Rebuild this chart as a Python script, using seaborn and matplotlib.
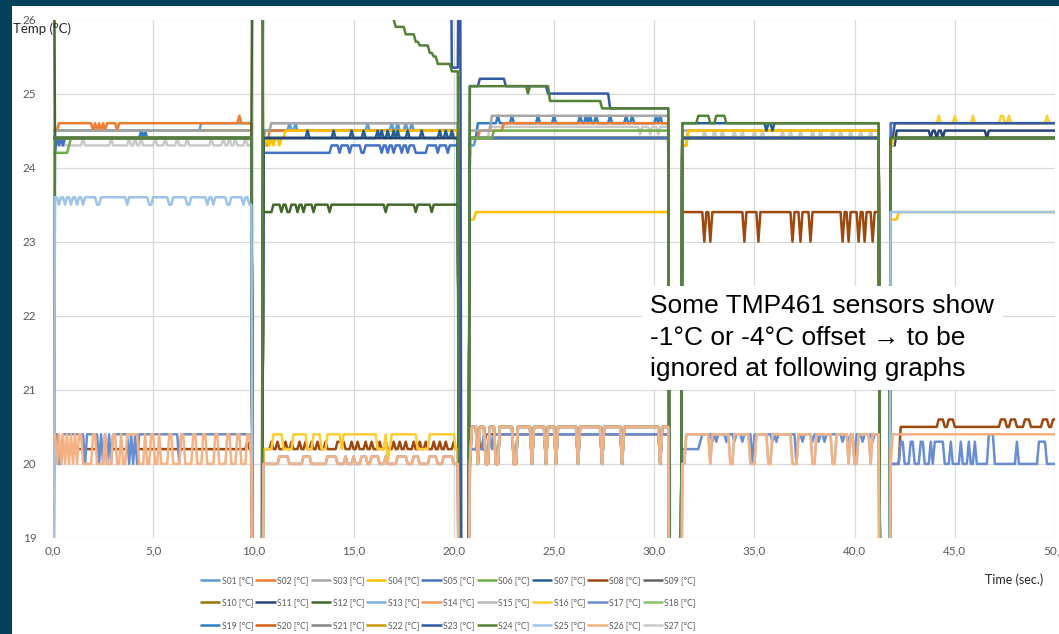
import numpy as np
import pandas as pd
import matplotlib
matplotlib.use("Agg")
import matplotlib.pyplot as plt
from matplotlib.patches import Rectangle
import seaborn as sns

# ---------------- data ----------------
LO = 15.0   # reading below the visible scale
HI = 30.0   # reading above the visible scale
SAMPLE_STEP = 0.1
TIME = np.round(np.arange(0, 501) * SAMPLE_STEP, 1)

SEG_START = [0.0, 10.5, 20.8, 31.4, 41.8]
SEG_END = [9.9, 20.2, 30.7, 41.2, 50.0]

SENSORS = ["S%02d" % i for i in range(1, 28)]
LABELS = ["S%02d [°C]" % i for i in range(1, 28)]
COLORS = ["#5B9BD5", "#ED7D31", "#A5A5A5", "#FFC000", "#4472C4", "#70AD47",
          "#255E91", "#9E480E", "#636363", "#997300", "#264478", "#43682B",
          "#7CAFDD", "#F1975A", "#B7B7B7", "#FFCD33", "#698ED0", "#8CC168",
          "#327DC2", "#D26012", "#848484", "#CC9A00", "#335AA1", "#548235",
          "#9DC3E6", "#F4B183", "#C9C9C9"]

Y_TICKS = [19, 20, 21, 22, 23, 24, 25, 26]
X_TICKS = [0, 5, 10, 15, 20, 25, 30, 35, 40, 45, 50]
X_TICK_LABELS = ["0,0", "5,0", "10,0", "15,0", "20,0", "25,0", "30,0",
                 "35,0", "40,0", "45,0", "50,0"]

# per sensor: level of each of the 5 runs (None = reads like S26), and excursions (t0, t1, value)
S26_LEVELS = [20.0, 20.0, 20.5, 20.4, 20.4]
S26_EVENTS = [(0.0, 0.1, 20.4), (0.3, 0.3, 20.4), (0.5, 0.5, 20.4), (0.7, 0.7, 20.4),
              (0.9, 0.9, 20.4), (1.1, 1.1, 20.4), (1.3, 1.4, 20.4), (2.0, 2.1, 20.4),
              (2.6, 2.6, 20.4), (3.0, 3.1, 20.4), (3.4, 3.4, 20.4), (3.7, 4.2, 20.4),
              (4.6, 4.6, 20.4), (4.9, 5.0, 20.4), (5.3, 5.3, 20.4), (5.8, 5.9, 20.4),
              (6.4, 6.5, 20.4), (7.0, 7.1, 20.4), (7.5, 7.6, 20.4), (8.1, 8.2, 20.4),
              (8.7, 8.8, 20.4), (9.2, 9.3, 20.4), (9.7, 9.8, 20.4),
              (11.3, 11.7, 20.1), (12.5, 12.8, 20.1), (13.7, 14.1, 20.1), (14.6, 14.6, 20.1),
              (15.0, 15.0, 20.1), (15.4, 15.6, 20.1), (15.9, 16.2, 20.1), (16.6, 16.6, 20.1),
              (17.2, 17.6, 20.1), (18.0, 18.2, 20.1), (18.8, 19.1, 20.1), (19.5, 19.9, 20.1),
              (20.8, 20.8, 20.0), (21.2, 21.2, 20.0), (21.6, 21.7, 20.0), (22.1, 22.2, 20.0),
              (23.0, 23.1, 20.0), (23.9, 23.9, 20.0), (24.6, 24.6, 20.0), (25.1, 25.1, 20.0),
              (26.2, 26.2, 20.0), (27.4, 27.4, 20.0), (28.4, 28.4, 20.0), (30.3, 30.3, 20.0),
              (31.4, 31.5, 20.0), (32.8, 32.8, 20.0), (33.8, 33.9, 20.0), (34.8, 35.0, 20.0),
              (35.7, 35.8, 20.0), (36.9, 37.1, 20.0), (37.9, 38.0, 20.0), (38.9, 39.0, 20.0),
              (39.7, 39.7, 20.0), (40.0, 40.1, 20.0), (40.8, 40.8, 20.0), (41.8, 41.8, 20.0)]

S01_LEVELS = [24.5, 24.5, 24.4, 24.4, 24.4]
S01_EVENTS = [(0.0, 0.0, LO), (7.4, 9.9, 24.6), (11.8, 11.8, 24.6), (12.1, 12.1, 24.6),
              (15.7, 15.7, 24.6), (16.9, 16.9, 24.6), (17.2, 17.2, 24.6), (17.6, 17.6, 24.6),
              (17.9, 17.9, 24.6), (20.8, 21.0, 24.3)]
S02_LEVELS = [24.6, 24.5, 24.6, 24.5, 24.4]
S02_EVENTS = [(0.0, 0.2, 24.5), (2.0, 2.0, 24.5), (2.2, 2.2, 24.5), (2.4, 2.4, 24.5),
              (2.6, 2.6, 24.5), (3.2, 3.2, 24.5), (9.3, 9.3, 24.7), (10.5, 10.7, 24.3),
              (20.8, 21.2, 24.4), (21.3, 22.4, 24.5), (31.4, 31.6, 24.3)]
S03_LEVELS = [24.5, 24.6, 24.7, 24.5, 24.4]
S03_EVENTS = [(10.5, 10.5, 24.4), (10.6, 10.8, 24.5), (20.8, 21.8, 24.5)]
S04_LEVELS = [24.4, 24.5, 23.4, 24.5, 23.4]
S04_EVENTS = [(10.5, 10.6, 24.3), (10.7, 10.7, 24.4), (10.8, 10.8, 24.3), (10.9, 10.9, 24.4),
              (11.0, 11.0, 24.3), (11.1, 11.2, 24.4), (11.3, 11.3, 24.3), (11.4, 11.5, 24.4),
              (20.8, 21.0, 23.3), (31.4, 31.6, 24.3), (41.8, 42.1, 23.3)]
S05_LEVELS = [24.4, 24.3, 24.4, 24.4, 24.6]
S05_EVENTS = [(0.0, 0.1, 24.2), (0.3, 0.3, 24.3), (0.5, 0.5, 24.3), (10.5, 13.8, 24.2),
              (14.3, 14.3, 24.2), (14.8, 14.8, 24.2), (15.4, 15.5, 24.2), (16.4, 16.4, 24.2),
              (16.7, 16.7, 24.2), (17.0, 17.0, 24.2), (17.4, 17.4, 24.2), (17.7, 17.7, 24.2),
              (18.1, 18.6, 24.2), (19.2, 19.2, 24.2), (19.7, 19.7, 24.2)]
S06_LEVELS = [24.4, 24.4, 24.5, 24.4, 24.4]
S06_EVENTS = [(0.0, 0.7, 24.2), (0.8, 0.8, 24.3), (20.8, 21.9, 24.4)]
S07_LEVELS = [24.4, 24.4, None, 24.6, 24.4]
S07_EVENTS = [(12.7, 12.7, 24.5), (14.0, 14.0, 24.5), (14.9, 14.9, 24.5), (15.5, 15.5, 24.5),
              (16.2, 16.2, 24.5), (16.4, 16.4, 24.5), (16.7, 16.7, 24.5), (17.0, 17.0, 24.5),
              (17.2, 17.2, 24.5), (17.7, 17.7, 24.5), (18.4, 18.4, 24.5), (19.3, 19.3, 24.5),
              (19.6, 19.6, 24.5), (19.9, 19.9, 24.5), (35.6, 35.6, 24.5), (35.9, 35.9, 24.5)]
S08_LEVELS = [20.2, 20.2, 20.4, 23.4, 20.5]
S08_EVENTS = [(9.7, 9.7, 20.3),
              (10.9, 10.9, 20.3), (11.2, 11.2, 20.3), (11.6, 11.6, 20.3), (11.9, 11.9, 20.3),
              (12.3, 12.3, 20.3), (12.6, 12.6, 20.3), (12.9, 12.9, 20.3), (13.2, 13.2, 20.3),
              (13.6, 13.6, 20.3), (14.2, 14.5, 20.3), (14.9, 14.9, 20.3), (15.2, 15.2, 20.3),
              (15.6, 15.6, 20.3), (15.9, 15.9, 20.3), (16.3, 16.3, 20.3), (16.6, 16.6, 20.3),
              (17.0, 17.0, 20.3), (17.3, 17.3, 20.3), (17.6, 17.6, 20.3), (18.0, 18.0, 20.3),
              (18.3, 18.3, 20.3), (18.6, 18.6, 20.3), (19.0, 19.0, 20.3), (19.3, 19.3, 20.3),
              (19.6, 19.6, 20.3), (20.0, 20.0, 20.3),
              (20.8, 21.2, 20.2), (21.3, 21.3, 20.3), (21.4, 21.5, 20.2),
              (32.5, 32.5, 23.0), (32.8, 32.8, 23.0), (34.5, 34.5, 23.0), (35.2, 35.2, 23.0),
              (36.9, 36.9, 23.0), (37.3, 37.3, 23.0), (37.8, 37.8, 23.0), (39.4, 39.4, 23.0),
              (39.7, 39.7, 23.0), (40.2, 40.2, 23.0), (40.5, 40.5, 23.0), (40.9, 40.9, 23.0),
              (41.8, 42.2, 20.0), (44.2, 44.4, 20.6), (44.7, 44.9, 20.6), (47.3, 47.5, 20.6),
              (47.8, 48.0, 20.6), (48.5, 48.7, 20.6), (49.4, 49.6, 20.6), (49.9, 50.0, 20.6)]
S09_LEVELS = [24.5, 24.5, 24.4, 24.4, 24.4]
S10_LEVELS = [24.5, 24.5, 24.4, 24.4, 24.4]
S11_LEVELS = [24.4, 24.4, None, 24.4, 24.5]
S11_EVENTS = [(41.8, 42.0, 24.3), (43.8, 43.8, 24.4), (44.1, 44.1, 24.4), (44.4, 44.4, 24.4),
              (46.6, 46.6, 24.4)]
S12_LEVELS = [24.4, 23.5, None, 24.4, 24.4]
S12_EVENTS = [(0.0, 0.0, HI), (10.0, 10.4, HI), (10.5, 10.9, 23.4), (11.4, 11.4, 23.4),
              (11.7, 11.8, 23.4), (12.2, 12.2, 23.4), (12.5, 12.5, 23.4), (13.0, 13.0, 23.4),
              (13.8, 13.8, 23.4), (16.6, 16.6, 23.4), (18.1, 18.1, 23.4), (18.9, 18.9, 23.4)]
S13_LEVELS = [24.5, 24.5, 24.4, 24.4, 24.4]
S14_LEVELS = [24.5, 24.5, 24.4, 24.4, 24.4]
S15_LEVELS = [24.5, 24.5, 24.4, 24.4, 24.4]
S16_LEVELS = [24.4, 20.4, None, 24.4, 24.6]
S16_EVENTS = [(10.5, 10.9, 20.2), (11.5, 11.9, 20.2), (12.7, 12.9, 20.2), (13.4, 13.6, 20.2),
              (14.4, 14.4, 20.2), (16.2, 16.5, 20.2), (16.7, 16.7, 20.0), (16.8, 16.8, 20.2),
              (18.2, 18.7, 20.2), (20.1, 20.2, 20.2), (41.8, 41.9, 24.3),
              (44.2, 44.2, 24.7), (45.0, 45.0, 24.7), (45.9, 45.9, 24.7), (47.3, 47.4, 24.7),
              (47.7, 47.7, 24.7), (49.6, 49.6, 24.7)]
S17_LEVELS = [20.4, None, 20.4, 20.4, 20.0]
S17_EVENTS = [(0.3, 0.4, 20.0), (1.6, 1.6, 20.0), (2.3, 2.3, 20.0), (2.5, 2.5, 20.0),
              (2.7, 2.7, 20.0), (2.9, 2.9, 20.0), (3.8, 3.8, 20.0), (4.0, 4.0, 20.0),
              (4.2, 4.2, 20.0), (6.3, 6.3, 20.0),
              (20.8, 21.4, 20.2), (21.9, 21.9, 20.2),
              (31.4, 32.2, 20.2), (32.3, 32.3, 20.3), (32.9, 32.9, 20.3), (33.1, 33.1, 20.3),
              (33.6, 33.6, 20.3), (34.0, 34.0, 20.3), (34.4, 34.4, 20.3), (34.9, 34.9, 20.0),
              (35.9, 35.9, 20.3), (36.1, 36.1, 20.3), (37.1, 37.1, 20.0), (37.4, 37.4, 20.3),
              (37.9, 37.9, 20.3), (38.2, 38.2, 20.3), (38.5, 38.5, 20.3), (39.4, 39.4, 20.3),
              (39.7, 39.7, 20.3), (40.0, 40.0, 20.0), (40.4, 40.4, 20.3), (40.9, 40.9, 20.3),
              (42.3, 42.4, 20.3), (42.8, 42.9, 20.3), (43.3, 43.4, 20.3), (43.8, 43.8, 20.3),
              (44.0, 44.4, 20.3), (44.8, 44.8, 20.3), (45.3, 45.3, 20.3), (45.7, 45.7, 20.3),
              (46.0, 46.0, 20.3), (46.7, 46.9, 20.4), (48.1, 48.1, 20.3), (49.2, 49.5, 20.3)]
S18_LEVELS = [24.5, 24.5, 24.4, 24.4, 24.4]
S19_LEVELS = [24.4, 24.5, 24.6, 24.4, 24.4]
S19_EVENTS = [(4.4, 4.4, 24.5), (4.6, 4.6, 24.5), (20.8, 21.1, 24.4),
              (22.2, 22.2, 24.7), (22.9, 22.9, 24.7), (24.2, 24.2, 24.7), (25.0, 25.0, 24.7),
              (26.3, 26.3, 24.7), (26.6, 26.6, 24.7), (26.8, 26.8, 24.7), (27.1, 27.1, 24.7),
              (27.8, 27.8, 24.7), (28.6, 28.6, 24.7), (28.9, 28.9, 24.7), (30.1, 30.1, 24.7),
              (30.3, 30.3, 24.7)]
S20_LEVELS = [24.5, 24.5, 24.4, 24.4, 24.4]
S21_LEVELS = [24.5, 24.5, 24.4, 24.4, 24.4]
S22_LEVELS = [24.5, 24.5, 24.4, 24.4, 24.4]
S23_LEVELS = [24.4, HI, 25.1, 24.4, 24.6]
S23_EVENTS = [(19.9, 20.2, 25.35), (20.3, 20.3, HI), (21.3, 22.5, 25.2), (24.7, 27.7, 25.0),
              (27.8, 30.7, 24.8), (41.8, 41.9, 24.4)]
S24_LEVELS = [24.4, HI, 25.1, 24.6, 24.4]
S24_EVENTS = [(0.0, 0.0, LO), (17.0, 17.0, 26.0), (17.1, 17.5, 25.9), (17.6, 18.0, 25.8),
              (18.1, 18.2, 25.7), (18.3, 18.7, 25.65), (18.8, 18.9, 25.55), (19.0, 19.1, 25.5),
              (19.2, 19.8, 25.4), (19.9, 20.2, 25.3), (23.7, 23.7, 25.0), (24.8, 27.3, 24.9),
              (27.4, 30.7, 24.8), (32.2, 32.7, 24.7), (33.1, 33.5, 24.7)]
S25_LEVELS = [23.6, None, None, None, 23.4]
S25_EVENTS = [(0.0, 0.0, LO), (0.3, 0.3, 23.5), (0.6, 0.6, 23.5), (0.9, 0.9, 23.5),
              (1.2, 1.2, 23.5), (1.5, 1.5, 23.5), (2.2, 2.3, 23.5), (3.7, 3.7, 23.5),
              (4.8, 4.9, 23.5), (5.8, 5.9, 23.5), (6.7, 6.8, 23.5), (7.7, 7.7, 23.5),
              (8.0, 8.0, 23.5), (8.7, 8.8, 23.5), (9.5, 9.5, 23.5), (9.8, 9.9, 23.5)]
S27_LEVELS = [24.3, 24.6, 24.55, 24.4, 24.4]
S27_EVENTS = [(0.0, 0.3, 24.4), (1.5, 1.5, 24.4), (2.9, 2.9, 24.4), (3.8, 3.8, 24.4),
              (4.1, 4.1, 24.4), (4.4, 4.4, 24.4), (5.1, 5.1, 24.4), (5.6, 5.6, 24.4),
              (6.2, 6.2, 24.4), (6.7, 6.7, 24.4), (7.9, 7.9, 24.4), (8.5, 8.5, 24.4),
              (8.8, 8.8, 24.4), (9.1, 9.1, 24.4), (9.6, 9.6, 24.4),
              (10.5, 10.5, 24.4), (10.6, 10.8, 24.5), (20.8, 21.7, 24.4),
              (29.3, 29.3, 24.45), (29.8, 29.8, 24.45), (30.2, 30.2, 24.45),
              (32.5, 32.5, 24.5), (33.0, 33.0, 24.5), (33.4, 33.4, 24.5), (34.0, 34.0, 24.5),
              (34.4, 34.4, 24.5), (35.0, 35.0, 24.5), (35.4, 35.4, 24.5), (36.4, 36.4, 24.5),
              (36.8, 36.8, 24.5), (37.3, 37.3, 24.5), (37.9, 37.9, 24.5), (38.3, 38.3, 24.5),
              (38.9, 38.9, 24.5), (39.3, 39.3, 24.5), (39.8, 39.8, 24.5), (40.3, 40.3, 24.5),
              (40.8, 40.8, 24.5)]

SERIES_SPEC = {
    "S01": (S01_LEVELS, S01_EVENTS), "S02": (S02_LEVELS, S02_EVENTS),
    "S03": (S03_LEVELS, S03_EVENTS), "S04": (S04_LEVELS, S04_EVENTS),
    "S05": (S05_LEVELS, S05_EVENTS), "S06": (S06_LEVELS, S06_EVENTS),
    "S07": (S07_LEVELS, S07_EVENTS), "S08": (S08_LEVELS, S08_EVENTS),
    "S09": (S09_LEVELS, []), "S10": (S10_LEVELS, []),
    "S11": (S11_LEVELS, S11_EVENTS), "S12": (S12_LEVELS, S12_EVENTS),
    "S13": (S13_LEVELS, []), "S14": (S14_LEVELS, []), "S15": (S15_LEVELS, []),
    "S16": (S16_LEVELS, S16_EVENTS), "S17": (S17_LEVELS, S17_EVENTS),
    "S18": (S18_LEVELS, []), "S19": (S19_LEVELS, S19_EVENTS),
    "S20": (S20_LEVELS, []), "S21": (S21_LEVELS, []), "S22": (S22_LEVELS, []),
    "S23": (S23_LEVELS, S23_EVENTS), "S24": (S24_LEVELS, S24_EVENTS),
    "S25": (S25_LEVELS, S25_EVENTS), "S26": (S26_LEVELS, S26_EVENTS),
    "S27": (S27_LEVELS, S27_EVENTS),
}

# order in which the traces are stacked (first = bottom)
DRAW_ORDER = ["S09", "S10", "S13", "S14", "S15", "S18", "S20", "S21", "S22", "S27", "S19",
              "S01", "S02", "S03", "S04", "S05", "S06", "S07", "S08", "S11", "S12",
              "S16", "S17", "S23", "S24", "S25", "S26"]


def in_window(a, b):
    return (TIME >= a - 1e-9) & (TIME <= b + 1e-9)


def build(levels, events, ref=None):
    v = np.full(TIME.shape, LO)
    for a, b, lv in zip(SEG_START, SEG_END, levels):
        m = in_window(a, b)
        v[m] = ref[m] if lv is None else lv
    for a, b, val in events:
        v[in_window(a, b)] = val
    return v


values = {"S26": build(S26_LEVELS, S26_EVENTS)}
for name in SENSORS:
    if name != "S26":
        lv, ev = SERIES_SPEC[name]
        values[name] = build(lv, ev, values["S26"])

frames = [pd.DataFrame({"time": TIME, "temp": values[n], "sensor": n}) for n in DRAW_ORDER]
df = pd.concat(frames, ignore_index=True)
color_map = dict(zip(SENSORS, COLORS))

# ---------------- figure ----------------
sns.set_style("white")
plt.rcParams["font.family"] = ["Lato", "DejaVu Sans"]

W, H = 1059, 634
fig = plt.figure(figsize=(W / 100, H / 100), dpi=100)
fig.patch.set_facecolor("#03405A")
fig.add_artist(Rectangle((12 / W, 0), 1, (H - 6) / H, transform=fig.transFigure,
                         facecolor="white", edgecolor="none", zorder=-5))

ax = fig.add_axes([53 / W, (H - 538) / H, (1055 - 53) / W, (538 - 19.5) / H])
ax.set_facecolor("white")

sns.lineplot(data=df, x="time", y="temp", hue="sensor", hue_order=DRAW_ORDER,
             palette=color_map, estimator=None, linewidth=1.8, legend=False, ax=ax)
for ln in ax.lines:
    ln.set_solid_joinstyle("round")
    ln.set_solid_capstyle("butt")

line_by_name = dict(zip(DRAW_ORDER, ax.lines))

ax.set_xlim(0, 50)
ax.set_ylim(19, 26)
ax.set_xticks(X_TICKS)
ax.set_xticklabels(X_TICK_LABELS)
ax.set_yticks(Y_TICKS)
ax.set_yticklabels([str(v) for v in Y_TICKS])
ax.tick_params(axis="both", length=0, labelsize=8.5, labelcolor="#595959")
ax.tick_params(axis="y", pad=12)
ax.tick_params(axis="x", pad=5)
ax.grid(True, color="#D9D9D9", linewidth=0.9)
ax.set_axisbelow(True)
for s in ax.spines.values():
    s.set_visible(False)
ax.set_xlabel("")
ax.set_ylabel("")

fig.text(13 / W, 1 - 29 / H, "Temp (°C)", fontsize=9.5, color="#262626",
         ha="left", va="center")
fig.text(985 / W, 1 - 580 / H, "Time (sec.)", fontsize=9, color="#262626",
         ha="left", va="center")

fig.text(650 / W, 1 - 294 / H,
         "Some TMP461 sensors show\n-1°C or -4°C offset \u2192 to be\nignored at following graphs",
         fontsize=19, color="black", ha="left", va="top", linespacing=1.4,
         family=["Liberation Sans", "DejaVu Sans"], zorder=10,
         bbox=dict(facecolor="white", edgecolor="none", pad=6))

# legend: 3 rows x 9 columns, row-major
ncol, nrow = 9, 3
order = [r * ncol + c for c in range(ncol) for r in range(nrow)]
handles = [line_by_name[SENSORS[i]] for i in order]
labels = [LABELS[i] for i in order]
leg = fig.legend(handles, labels, loc="upper left", bbox_to_anchor=(200 / W, 1 - 576 / H),
                 ncol=ncol, frameon=False, fontsize=6.2, handlelength=2.35,
                 handletextpad=0.18, columnspacing=0.25, labelspacing=1.55,
                 borderaxespad=0, borderpad=0)
for t in leg.get_texts():
    t.set_color("#595959")

fig.savefig("out.png", dpi=100, facecolor=fig.get_facecolor())
